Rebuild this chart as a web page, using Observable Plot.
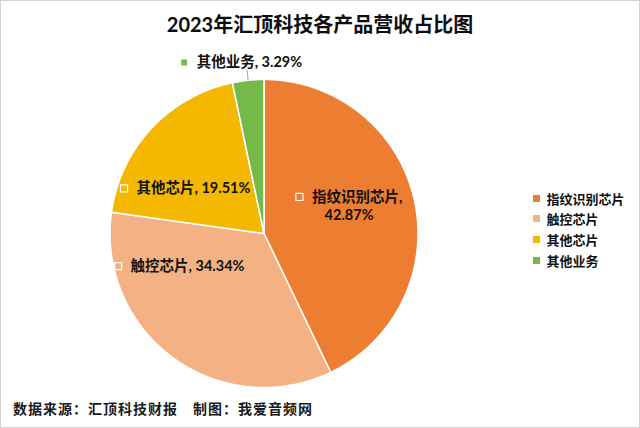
<!DOCTYPE html>
<html>
<head>
<meta charset="utf-8">
<script src="https://cdn.jsdelivr.net/npm/d3@7"></script>
<script src="https://cdn.jsdelivr.net/npm/@observablehq/plot@0.6"></script>
<style>
  html, body { margin: 0; padding: 0; background: #fff; }
  #chart { position: relative; width: 640px; height: 428px; overflow: hidden; background: #fff;
           outline: 1px solid #d2d2d2; outline-offset: -1px; }
  #plot { position: absolute; left: 0; top: 0; }
  #title { position: absolute; left: 0; top: 10px; width: 640px; text-align: center;
           font: bold 20px/28px Lato, "Noto Sans CJK SC", sans-serif; color: #0d0d0d; }
  #caption { position: absolute; left: 13px; top: 398px; letter-spacing: 1px;
             font: bold 14px/20px "Noto Sans CJK SC", sans-serif; color: #1a1a1a; }
  #legend { position: absolute; left: 533px; top: 188px; }
  #legend [class$="-swatch"] { height: 20.6px; padding-bottom: 0 !important; margin: 0 !important; }
  #legend [class*="-swatches"] { margin: 0 !important; min-height: 0 !important; }
</style>
</head>
<body>
<div id="chart">
  <div id="plot"></div>
  <div id="title">2023年汇顶科技各产品营收占比图</div>
  <div id="legend"></div>
  <div id="caption">数据来源：汇顶科技财报　制图：我爱音频网</div>
</div>
<script>
// ---- data ----
const categories = ["指纹识别芯片", "触控芯片", "其他芯片", "其他业务"];
const shares = [42.87, 34.34, 19.51, 3.29];
const colors = ["#ED7D31", "#F4B183", "#F5B800", "#74B94A"];

// ---- label layout (mimics Excel "best fit") ----
const labelRadius = [0.6, 0.6, 0.6, 1.11];
const labelNudge = [[-5, -7], [-30, -42], [-11, 18], [-5, -1]];
const labelWrap = [true, false, false, false];
const labelOutside = [false, false, false, true];

const W = 640, H = 428, CX = 263.5, CY = 233, R = 154;
const FONT = 'Lato, "Noto Sans CJK SC", sans-serif';
const FS = 14.5;
const px = 1 / R;

const pie = d3.pie().sort(null).value(d => d.share)(categories.map((name, i) => ({name, share: shares[i]})));

// slice polygons
const slicePts = [];
pie.forEach(s => {
  const name = s.data.name;
  slicePts.push({name, x: 0, y: 0});
  const n = Math.max(4, Math.ceil((s.endAngle - s.startAngle) / 0.01));
  for (let k = 0; k <= n; k++) {
    const a = s.startAngle + (s.endAngle - s.startAngle) * k / n;
    slicePts.push({name, x: Math.sin(a), y: Math.cos(a)});
  }
});

// text measurement
const ctx = document.createElement("canvas").getContext("2d");
ctx.font = `bold ${FS}px ${FONT}`;
const measure = t => ctx.measureText(t).width;

const textRows = [], keyRows = [], leaderRows = [];
const KEY = 7, GAP = 9, LINE = 9;
pie.forEach((s, i) => {
  const name = s.data.name;
  const mid = (s.startAngle + s.endAngle) / 2;
  const ax = labelRadius[i] * Math.sin(mid) + labelNudge[i][0] * px;
  const ay = labelRadius[i] * Math.cos(mid) - labelNudge[i][1] * px;
  const pct = shares[i].toFixed(2) + "%";
  const line1 = labelWrap[i] ? name + "," : name + ", " + pct;
  const w1 = measure(line1);
  const y1 = labelWrap[i] ? ay + LINE * px : ay;
  textRows.push({name, x: ax + (KEY + GAP) / 2 * px, y: y1, text: line1});
  keyRows.push({name, x: ax - (KEY + GAP + w1) / 2 * px + KEY / 2 * px, y: y1});
  if (labelWrap[i]) textRows.push({name, x: ax, y: ay - LINE * px, text: pct});
  if (labelOutside[i]) {
    leaderRows.push({x1: Math.sin(mid), y1: Math.cos(mid), x2: 1.07 * Math.sin(mid), y2: 1.07 * Math.cos(mid)});
  }
});

const chart = Plot.plot({
  width: W, height: H, margin: 0,
  style: {background: "transparent", overflow: "visible"},
  x: {domain: [-CX / R, (W - CX) / R], axis: null},
  y: {domain: [-(H - CY) / R, CY / R], axis: null},
  color: {domain: categories, range: colors},
  marks: [
    Plot.line(slicePts, {x: "x", y: "y", z: "name", fill: "name", stroke: "white", strokeWidth: 1.5, curve: "linear-closed"}),
    Plot.link(leaderRows, {x1: "x1", y1: "y1", x2: "x2", y2: "y2", stroke: "#a6a6a6", strokeWidth: 1}),
    Plot.dot(keyRows, {x: "x", y: "y", fill: "name", stroke: "white", strokeWidth: 1.2, symbol: "square", r: 4}),
    Plot.text(textRows, {x: "x", y: "y", text: "text", textAnchor: "middle", fontSize: FS, fontWeight: "bold", fontFamily: FONT, fill: "#111"})
  ]
});
document.getElementById("plot").appendChild(chart);

const legend = Plot.legend({
  color: {type: "ordinal", domain: categories, range: colors},
  legend: "swatches", columns: 1, swatchSize: 7,
  style: {fontSize: "13px", fontFamily: '"Noto Sans CJK SC", sans-serif', color: "#111", fontWeight: "bold"}
});
document.getElementById("legend").appendChild(legend);
</script>
</body>
</html>
